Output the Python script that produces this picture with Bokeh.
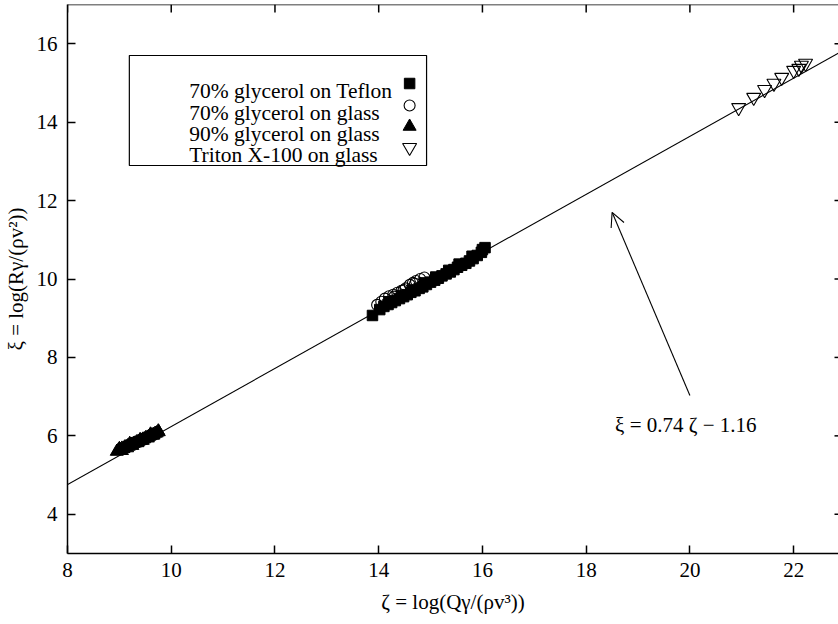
from bokeh.plotting import figure
from bokeh.models import Range1d, Slope, Arrow, OpenHead, FixedTicker, Span
from bokeh.core.properties import value
from bokeh.embed import file_html
from bokeh.resources import INLINE

# ---- measured data: zeta = log(Q*gamma/(rho*v^3)), xi = log(R*gamma/(rho*v^2)) ----
teflon70_zeta = [13.88, 14.02, 14.10, 14.18, 14.25, 14.32, 14.40, 14.48, 14.55, 14.62,
                 14.70, 14.78, 14.85, 14.92, 15.00, 15.08, 15.15, 15.22, 15.30, 15.38,
                 15.45, 15.52, 15.60, 15.68, 15.75, 15.82, 15.90, 15.98, 16.05, 14.20,
                 14.45, 14.65, 14.88, 15.10, 15.35, 15.55, 15.80, 16.00]
teflon70_xi = [9.07, 9.22, 9.30, 9.35, 9.40, 9.45, 9.50, 9.55, 9.60, 9.66,
               9.70, 9.76, 9.80, 9.86, 9.92, 9.97, 10.02, 10.08, 10.13, 10.18,
               10.24, 10.30, 10.35, 10.40, 10.46, 10.52, 10.60, 10.68, 10.80, 9.42,
               9.58, 9.72, 9.90, 10.05, 10.22, 10.38, 10.58, 10.75]

glass70_zeta = [13.97, 14.05, 14.12, 14.20, 14.28, 14.36, 14.44, 14.52, 14.60, 14.66,
                14.72, 14.80, 14.88, 14.30, 14.48, 14.70]
glass70_xi = [9.34, 9.42, 9.50, 9.56, 9.60, 9.65, 9.70, 9.76, 9.85, 9.90,
              9.95, 10.00, 10.04, 9.55, 9.72, 9.88]

glass90_zeta = [8.95, 8.98, 9.02, 9.05, 9.08, 9.10, 9.13, 9.16, 9.18, 9.21,
                9.24, 9.27, 9.30, 9.33, 9.36, 9.39, 9.42, 9.45, 9.48, 9.51,
                9.54, 9.57, 9.60, 9.63, 9.66, 9.69, 9.72, 9.76, 9.05, 9.15,
                9.25, 9.35, 9.45, 9.55, 9.65, 9.00, 9.20, 9.40, 9.60, 9.75]
glass90_xi = [5.60, 5.63, 5.64, 5.68, 5.67, 5.71, 5.72, 5.74, 5.73, 5.77,
              5.78, 5.80, 5.81, 5.84, 5.85, 5.87, 5.88, 5.91, 5.92, 5.95,
              5.96, 5.98, 6.00, 6.02, 6.03, 6.06, 6.07, 6.10, 5.62, 5.69,
              5.75, 5.82, 5.88, 5.94, 6.01, 5.67, 5.80, 5.90, 6.04, 6.12]

triton_zeta = [20.94, 21.23, 21.44, 21.62, 21.77, 22.00, 22.10, 22.15, 22.23]
triton_xi = [14.37, 14.63, 14.83, 14.99, 15.14, 15.32, 15.37, 15.45, 15.50]

series_labels = ["70% glycerol on Teflon", "70% glycerol on glass",
                 "90% glycerol on glass", "Triton X-100 on glass"]

# fitted relation xi = a*zeta + b
fit_slope = 0.74
fit_intercept = -1.16
fit_label = "ξ = 0.74 ζ − 1.16"

x_ticks = [8, 10, 12, 14, 16, 18, 20, 22]
y_ticks = [4, 6, 8, 10, 12, 14, 16]

# ---- layout ----
W, H = 838, 624
FRAME_LEFT, FRAME_TOP, FRAME_BOTTOM = 65, 4, 553
X0, X1 = 8.0, 22.865
Y0, Y1 = 3.0, 17.0
FRAME_W = W - FRAME_LEFT
FRAME_H = FRAME_BOTTOM - FRAME_TOP
TICK_LEN = 8

SERIF = "Liberation Serif"
AXIS_FONT = "'Liberation Serif', 'Times New Roman', serif"


def sx(px):
    """screen x (px) -> zeta"""
    return X0 + (px - FRAME_LEFT) * (X1 - X0) / FRAME_W


def sy(py):
    """screen y (px from top) -> xi"""
    return Y0 + (FRAME_BOTTOM - py) * (Y1 - Y0) / FRAME_H


p = figure(width=W, height=H, output_backend="svg", toolbar_location=None,
           x_range=Range1d(X0, X1), y_range=Range1d(Y0, Y1),
           x_axis_label="ζ = log(Qγ/(ρv³))", y_axis_label="ξ = log(Rγ/(ρv²))",
           min_border_left=FRAME_LEFT, min_border_right=0,
           min_border_top=FRAME_TOP, min_border_bottom=H - FRAME_BOTTOM)
p.grid.visible = False
p.outline_line_color = None
p.background_fill_color = "white"
p.border_fill_color = "white"

for ax, ticks in ((p.xaxis[0], x_ticks), (p.yaxis[0], y_ticks)):
    ax.ticker = FixedTicker(ticks=ticks)
    ax.major_tick_in = TICK_LEN
    ax.major_tick_out = 0
    ax.minor_tick_line_color = None
    ax.axis_line_width = 1.5
    ax.major_tick_line_width = 1.5
    ax.major_label_text_font = AXIS_FONT
    ax.major_label_text_font_size = "21px"
    ax.major_label_text_color = "black"
    ax.axis_label_text_font = AXIS_FONT
    ax.axis_label_text_font_size = "21px"
    ax.axis_label_text_font_style = "normal"
    ax.axis_label_text_color = "black"
p.xaxis[0].major_label_standoff = 9
p.xaxis[0].axis_label_standoff = 10
p.yaxis[0].major_label_standoff = 10
p.yaxis[0].axis_label_standoff = 6

# top frame edge with mirrored tick marks on the top and right sides
p.add_layout(Span(location=Y1, dimension="width", line_color="black", line_width=1.5))
p.segment(x0=x_ticks, y0=[Y1] * len(x_ticks), x1=x_ticks,
          y1=[sy(FRAME_TOP + TICK_LEN)] * len(x_ticks),
          line_color="black", line_width=1.5)
p.segment(x0=[sx(W - 4)] * len(y_ticks), y0=y_ticks, x1=[X1] * len(y_ticks), y1=y_ticks,
          line_color="black", line_width=1.5)

# fit line
p.add_layout(Slope(gradient=fit_slope, y_intercept=fit_intercept,
                   line_color="black", line_width=1.1))

# data series
p.scatter(teflon70_zeta, teflon70_xi, marker="square", size=10.5,
          fill_color="black", line_color="black")
p.scatter(glass70_zeta, glass70_xi, marker="circle", size=11,
          fill_color=None, line_color="black", line_width=1.1)
p.scatter(glass90_zeta, glass90_xi, marker="triangle", size=13,
          fill_color="black", line_color="black")
p.scatter(triton_zeta, triton_xi, marker="inverted_triangle", size=14,
          fill_color=None, line_color="black", line_width=1.1)

# legend box: labels on the left, symbol samples on the right
p.quad(left=[sx(127)], right=[sx(425)], top=[sy(55)], bottom=[sy(165)],
       fill_color="white", line_color="black", line_width=1.2)
row_base = [90, 112, 133, 154]
row_mid = [b - 7 for b in row_base]
p.text(x=[sx(187)] * 4, y=[sy(b) for b in row_base], text=series_labels,
       text_font=value(SERIF), text_font_size="21.5px", text_color="black",
       text_align="left", text_baseline="alphabetic")
p.scatter([sx(408)], [sy(row_mid[0])], marker="square", size=10.5,
          fill_color="black", line_color="black")
p.scatter([sx(408)], [sy(row_mid[1])], marker="circle", size=11,
          fill_color=None, line_color="black", line_width=1.1)
p.scatter([sx(408)], [sy(row_mid[2])], marker="triangle", size=13,
          fill_color="black", line_color="black")
p.scatter([sx(408)], [sy(row_mid[3])], marker="inverted_triangle", size=14,
          fill_color=None, line_color="black", line_width=1.1)

# annotation of the fit
p.add_layout(Arrow(end=OpenHead(size=14, line_width=1.1, line_color="black"),
                   x_start=20.0, y_start=7.03, x_end=18.5, y_end=11.70,
                   line_color="black", line_width=1.1))
p.text(x=[sx(614)], y=[sy(424)], text=[fit_label],
       text_font=value(SERIF), text_font_size="21px", text_color="black",
       text_align="left", text_baseline="alphabetic")

open("out.html", "w").write(file_html(p, INLINE))
